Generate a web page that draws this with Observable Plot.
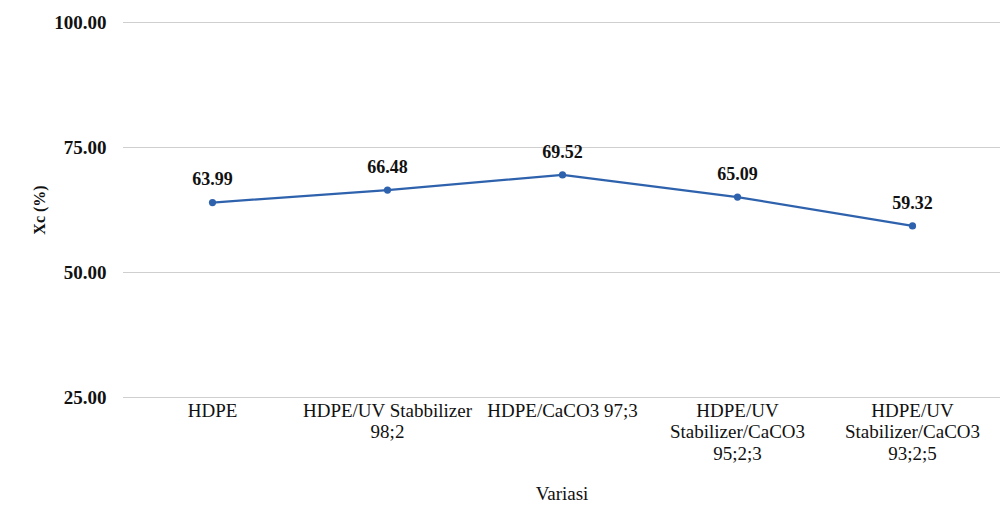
<!DOCTYPE html>
<html>
<head>
<meta charset="utf-8">
<script src="https://cdn.jsdelivr.net/npm/d3@7"></script>
<script src="https://cdn.jsdelivr.net/npm/@observablehq/plot@0.6"></script>
<style>
  html, body { margin: 0; padding: 0; background: #fff; }
  #chart svg { display: block; }
</style>
</head>
<body>
<div id="chart"></div>
<script>
const categories = ["HDPE", "HDPE/UV Stabbilizer 98;2", "HDPE/CaCO3 97;3", "HDPE/UV Stabilizer/CaCO3 95;2;3", "HDPE/UV Stabilizer/CaCO3 93;2;5"];
const tickLabels = ["HDPE", "HDPE/UV Stabbilizer\n98;2", "HDPE/CaCO3 97;3", "HDPE/UV\nStabilizer/CaCO3\n95;2;3", "HDPE/UV\nStabilizer/CaCO3\n93;2;5"];
const xcValues = [63.99, 66.48, 69.52, 65.09, 59.32];
const yTicks = [25, 50, 75, 100];

const data = categories.map((c, i) => ({cat: c, v: xcValues[i]}));
const labelOf = new Map(categories.map((c, i) => [c, tickLabels[i]]));
const blue = "#2f62ad";
const font = "'Liberation Serif', 'Times New Roman', serif";

const chart = Plot.plot({
  width: 1003,
  height: 524,
  marginLeft: 123,
  marginRight: 3,
  marginTop: 22,
  marginBottom: 127,
  style: {fontFamily: font, color: "#111", background: "#fff"},
  x: {type: "point", domain: categories, padding: 0.5},
  y: {domain: [25, 100]},
  marks: [
    Plot.gridY(yTicks, {stroke: "#cfcfcf", strokeOpacity: 1, strokeWidth: 1}),
    Plot.axisY(yTicks, {
      tickSize: 0, tickPadding: 17, tickFormat: d3.format(".2f"),
      fontSize: 19, fontWeight: "bold",
      label: "Xc (%)", labelAnchor: "center", labelArrow: "none", labelOffset: 90
    }),
    Plot.axisX({
      tickSize: 0, tickPadding: 4, tickFormat: d => labelOf.get(d),
      fontSize: 19, lineHeight: 1.13,
      label: "Variasi", labelAnchor: "center", labelArrow: "none", labelOffset: 102
    }),
    Plot.line(data, {x: "cat", y: "v", stroke: blue, strokeWidth: 2.2}),
    Plot.dot(data, {x: "cat", y: "v", fill: blue, r: 3.6}),
    Plot.text(data, {x: "cat", y: "v", text: d => d.v.toFixed(2), dy: -23, fontSize: 18, fontWeight: "bold", fill: "#111"})
  ]
});
document.getElementById("chart").appendChild(chart);

// style axis labels
d3.select(chart).selectAll("[aria-label='y-axis label'] text").attr("font-size", 16).attr("font-weight", "bold");
d3.select(chart).selectAll("[aria-label='x-axis label'] text").attr("font-size", 19);
</script>
</body>
</html>
